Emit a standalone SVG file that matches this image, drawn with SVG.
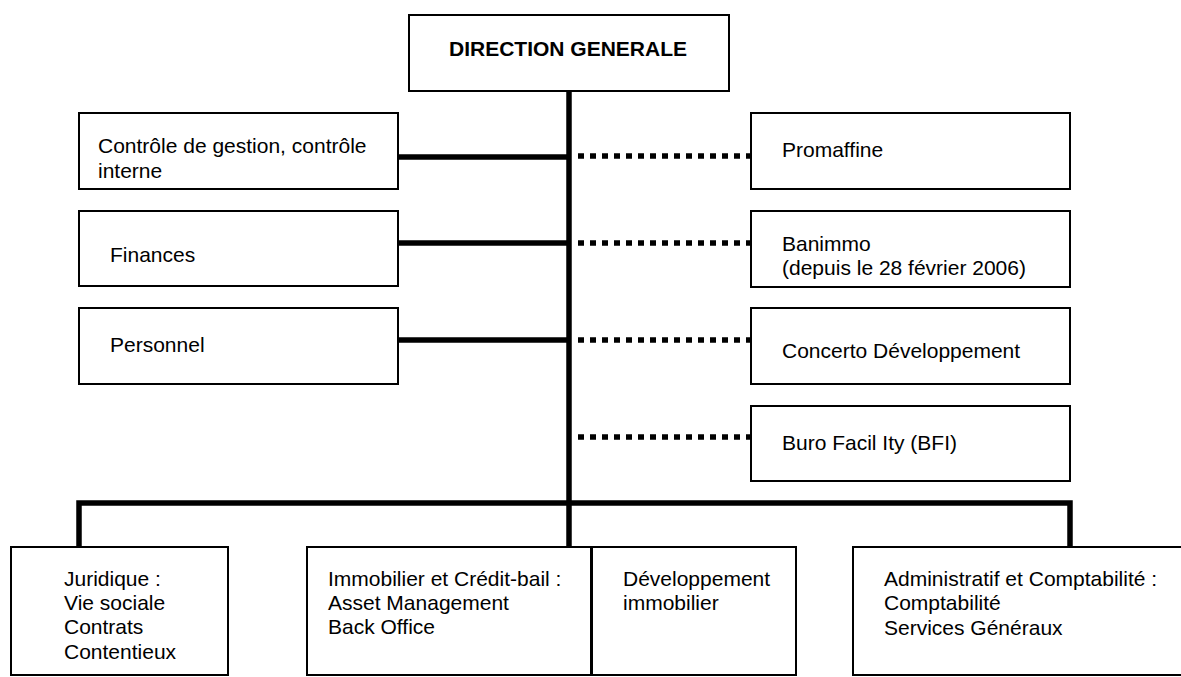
<svg xmlns="http://www.w3.org/2000/svg" width="1181" height="677" viewBox="0 0 1181 677">
<style>
.box{fill:#fff;stroke:#000;stroke-width:2}
.t{font-family:"Liberation Sans",Arial,sans-serif;font-size:21px;fill:#000}
.b{font-weight:bold}
.solid{stroke:#000;stroke-width:5.5;fill:none}
.dot{stroke:#000;stroke-width:5.5;fill:none;stroke-dasharray:6 6}
</style>
<rect width="1181" height="677" fill="#fff"/>
<g id="connectors">
<line class="solid" x1="569" y1="91" x2="569" y2="547"/>
<line class="solid" x1="398" y1="157" x2="569" y2="157"/>
<line class="solid" x1="398" y1="243" x2="569" y2="243"/>
<line class="solid" x1="398" y1="340" x2="569" y2="340"/>
<line class="dot" x1="578" y1="156" x2="751" y2="156"/>
<line class="dot" x1="578" y1="243" x2="751" y2="243"/>
<line class="dot" x1="578" y1="340" x2="751" y2="340"/>
<line class="dot" x1="578" y1="437" x2="751" y2="437"/>
<polyline class="solid" points="79,547 79,503 1070,503 1070,547"/>
</g>
<g id="direction">
<rect class="box" x="409" y="15" width="320" height="76"/>
<text class="t b" x="449" y="56">DIRECTION GENERALE</text>
</g>
<g id="controle">
<rect class="box" x="79" y="113" width="319" height="76"/>
<text class="t" x="98" y="153">Contrôle de gestion, contrôle</text>
<text class="t" x="98" y="178">interne</text>
</g>
<g id="finances">
<rect class="box" x="79" y="211" width="319" height="75"/>
<text class="t" x="110" y="262">Finances</text>
</g>
<g id="personnel">
<rect class="box" x="79" y="308" width="319" height="76"/>
<text class="t" x="110" y="352">Personnel</text>
</g>
<g id="promaffine">
<rect class="box" x="751" y="113" width="319" height="76"/>
<text class="t" x="782" y="157">Promaffine</text>
</g>
<g id="banimmo">
<rect class="box" x="751" y="211" width="319" height="76"/>
<text class="t" x="782" y="251">Banimmo</text>
<text class="t" x="782" y="275">(depuis le 28 février 2006)</text>
</g>
<g id="concerto">
<rect class="box" x="751" y="308" width="319" height="76"/>
<text class="t" x="782" y="358">Concerto Développement</text>
</g>
<g id="bfi">
<rect class="box" x="751" y="406" width="319" height="75"/>
<text class="t" x="782" y="450">Buro Facil Ity (BFI)</text>
</g>
<g id="juridique">
<rect class="box" x="11" y="547" width="217" height="128"/>
<text class="t" x="64" y="586">Juridique :</text>
<text class="t" x="64" y="610">Vie sociale</text>
<text class="t" x="64" y="634">Contrats</text>
<text class="t" x="64" y="659">Contentieux</text>
</g>
<g id="immobilier">
<rect class="box" x="307" y="547" width="284" height="128"/>
<text class="t" x="328" y="586">Immobilier et Crédit-bail :</text>
<text class="t" x="328" y="610">Asset Management</text>
<text class="t" x="328" y="634">Back Office</text>
</g>
<g id="developpement">
<rect class="box" x="592" y="547" width="204" height="128"/>
<text class="t" x="623" y="586">Développement</text>
<text class="t" x="623" y="610">immobilier</text>
</g>
<g id="administratif">
<rect class="box" x="853" y="547" width="340" height="128"/>
<text class="t" x="884" y="586">Administratif et Comptabilité :</text>
<text class="t" x="884" y="610">Comptabilité</text>
<text class="t" x="884" y="635">Services Généraux</text>
</g>
</svg>
